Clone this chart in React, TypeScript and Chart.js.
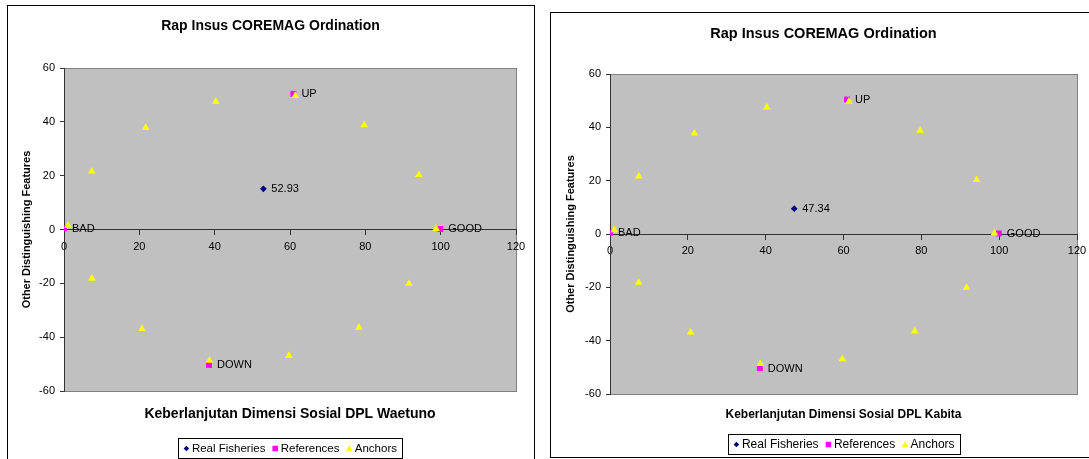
import React, { useEffect, useRef } from "react";
import { Chart, registerables } from "chart.js";

Chart.register(...registerables);

const FONT = "'Liberation Sans', Arial, sans-serif";
Chart.defaults.font.family = FONT;

// ---------- data ----------
const chartTitle = "Rap Insus COREMAG Ordination";
const yAxisTitle = "Other Distinguishing Features";
const seriesNames = ["Real Fisheries", "References", "Anchors"];
const xTickValues = [0, 20, 40, 60, 80, 100, 120];
const yTickValues = [-60, -40, -20, 0, 20, 40, 60];

const anchorX = [1.1, 7.4, 21.7, 40.3, 61.4, 79.7, 94.2, 98.8, 91.6, 78.3, 59.7, 38.6, 20.7, 7.4];
const anchorY = [1.5, 21.6, 37.8, 47.5, 49.7, 38.8, 20.3, 0.3, -20.1, -36.4, -46.9, -48.7, -36.9, -18.2];

const referenceX = [99.9, 0, 60.9, 38.5];
const referenceY = [0.2, 0.5, 50.4, -50.3];
const referenceLabels = ["GOOD", "BAD", "UP", "DOWN"];

const waetunoX = [52.93];
const waetunoY = [15.1];
const kabitaX = [47.34];
const kabitaY = [9.5];

const xTitleWaetuno = "Keberlanjutan Dimensi Sosial DPL Waetuno";
const xTitleKabita = "Keberlanjutan Dimensi Sosial DPL Kabita";

// ---------- layout / style ----------
type Cfg = {
  boxLeft: number; boxTop: number; boxW: number; boxH: number;
  canLeft: number; canTop: number; canW: number; canH: number;
  padL: number; padR: number; padB: number;
  yAxisWidth: number; yTitlePadTop: number; yTitleSize: number;
  titleSize: number; titlePadTop: number; titlePadBottom: number;
  xTitleSize: number; xTitlePadTop: number;
  legendOffset: number; legendSize: number; legendH: number;
};

const leftCfg: Cfg = {
  boxLeft: 7, boxTop: 5, boxW: 528, boxH: 480,
  canLeft: 8, canTop: 6, canW: 526, canH: 470,
  padL: 17, padR: 18, padB: 53.6,
  yAxisWidth: 39, yTitlePadTop: -4.5, yTitleSize: 11,
  titleSize: 14, titlePadTop: 11.6, titlePadBottom: 33.6,
  xTitleSize: 14, xTitlePadTop: 14.6,
  legendOffset: 47, legendSize: 11.5, legendH: 20,
};

const rightCfg: Cfg = {
  boxLeft: 550, boxTop: 12, boxW: 548, boxH: 446,
  canLeft: 551, canTop: 13, canW: 546, canH: 444,
  padL: 19, padR: 20, padB: 35.5,
  yAxisWidth: 40, yTitlePadTop: -5.6, yTitleSize: 11,
  titleSize: 14.5, titlePadTop: 12.6, titlePadBottom: 31,
  xTitleSize: 12, xTitlePadTop: 13.1,
  legendOffset: 40.3, legendSize: 12, legendH: 20,
};

const AXIS_COLOR = "#333333";
const FISH_COLOR = "#000080";
const REF_COLOR = "#FF00FF";
const ANCHOR_COLOR = "#FFFF00";

function drawMarker(ctx: CanvasRenderingContext2D, style: string, x: number, y: number, r: number, color: string) {
  ctx.fillStyle = color;
  ctx.beginPath();
  if (style === "rectRot") {
    ctx.moveTo(x, y - r); ctx.lineTo(x + r, y); ctx.lineTo(x, y + r); ctx.lineTo(x - r, y);
  } else if (style === "rect") {
    const s = r * Math.SQRT1_2;
    ctx.rect(x - s, y - s, 2 * s, 2 * s);
  } else {
    ctx.moveTo(x, y - r);
    ctx.lineTo(x + r * Math.sin((2 * Math.PI) / 3), y - r * Math.cos((2 * Math.PI) / 3));
    ctx.lineTo(x + r * Math.sin((4 * Math.PI) / 3), y - r * Math.cos((4 * Math.PI) / 3));
  }
  ctx.closePath();
  ctx.fill();
}

function OrdinationChart({ cfg, fishX, fishY, xTitle }: { cfg: Cfg; fishX: number[]; fishY: number[]; xTitle: string }) {
  const ref = useRef<HTMLCanvasElement>(null);
  useEffect(() => {
    const bgPlugin = {
      id: "plotBg",
      beforeDraw(chart: any) {
        const { ctx, chartArea: a } = chart;
        ctx.save();
        ctx.fillStyle = "#C0C0C0";
        ctx.fillRect(a.left, a.top, a.right - a.left + 1, a.bottom - a.top + 1);
        ctx.strokeStyle = "#808080";
        ctx.lineWidth = 1;
        const l = Math.round(a.left) + 0.5, t = Math.round(a.top) + 0.5;
        const r = Math.round(a.right) + 0.5, b = Math.round(a.bottom) + 0.5;
        ctx.strokeRect(l, t, r - l, b - t);
        ctx.restore();
      },
    };
    const labelPlugin = {
      id: "pointText",
      afterDatasetsDraw(chart: any) {
        const ctx = chart.ctx;
        ctx.save();
        ctx.font = `11px ${FONT}`;
        ctx.fillStyle = "#000";
        ctx.textBaseline = "middle";
        ctx.textAlign = "left";
        chart.data.datasets.forEach((ds: any, i: number) => {
          if (!ds.pointLabels) return;
          const meta = chart.getDatasetMeta(i);
          meta.data.forEach((el: any, j: number) => {
            ctx.fillText(ds.pointLabels[j], el.x + 8, el.y + 0.5);
          });
        });
        ctx.restore();
      },
    };
    const legendItems = [
      { label: seriesNames[0], style: "rectRot", r: 2.8, color: FISH_COLOR },
      { label: seriesNames[1], style: "rect", r: 3.9, color: REF_COLOR },
      { label: seriesNames[2], style: "triangle", r: 4, color: ANCHOR_COLOR },
    ];
    const legendPlugin = {
      id: "boxLegend",
      afterDraw(chart: any) {
        const { ctx, chartArea: a } = chart;
        ctx.save();
        ctx.font = `${cfg.legendSize}px ${FONT}`;
        const widths = legendItems.map((it) => ctx.measureText(it.label).width);
        const padLeft = 8.4, markerGap = 5.5, itemGap = 9.8, padRight = 5;
        let total = padLeft + padRight;
        widths.forEach((w, i) => { total += markerGap + w + (i < widths.length - 1 ? itemGap : 0); });
        const cx = (a.left + a.right) / 2;
        const left = Math.round(cx - total / 2);
        const top = Math.round(a.bottom + cfg.legendOffset);
        ctx.fillStyle = "#fff";
        ctx.fillRect(left, top, Math.round(total), cfg.legendH);
        ctx.strokeStyle = "#000";
        ctx.lineWidth = 1;
        ctx.strokeRect(left + 0.5, top + 0.5, Math.round(total), cfg.legendH);
        const my = top + cfg.legendH / 2 + 0.5;
        let x = left + padLeft;
        legendItems.forEach((it, i) => {
          drawMarker(ctx, it.style, x, my + (it.style === "triangle" ? 0.8 : 0), it.r, it.color);
          ctx.fillStyle = "#000";
          ctx.textBaseline = "middle";
          ctx.textAlign = "left";
          ctx.fillText(it.label, x + markerGap, my);
          x += markerGap + widths[i] + itemGap;
        });
        ctx.restore();
      },
    };

    const chart = new Chart(ref.current as HTMLCanvasElement, {
      type: "scatter",
      data: {
        datasets: [
          {
            label: seriesNames[0],
            data: fishX.map((x, i) => ({ x, y: fishY[i] })),
            pointStyle: "rectRot", pointRadius: 3.4, pointHoverRadius: 3.4,
            backgroundColor: FISH_COLOR, borderWidth: 0, order: 0,
            pointLabels: fishX.map((v) => v.toFixed(2)),
          } as any,
          {
            label: seriesNames[1],
            data: referenceX.map((x, i) => ({ x, y: referenceY[i] })),
            pointStyle: "rect", pointRadius: 4.2, pointHoverRadius: 4.2,
            backgroundColor: REF_COLOR, borderWidth: 0, order: 2,
            pointLabels: referenceLabels,
          } as any,
          {
            label: seriesNames[2],
            data: anchorX.map((x, i) => ({ x, y: anchorY[i] })),
            pointStyle: "triangle", pointRadius: 4.4, pointHoverRadius: 4.4,
            backgroundColor: ANCHOR_COLOR, borderWidth: 0, order: 1,
          } as any,
        ],
      },
      options: {
        responsive: false,
        animation: false,
        devicePixelRatio: 1,
        events: [],
        layout: { padding: { left: cfg.padL, right: cfg.padR, top: 0, bottom: cfg.padB }, autoPadding: false },
        scales: {
          x: {
            type: "linear",
            position: { y: 0 } as any,
            min: 0, max: 120,
            afterBuildTicks: (s: any) => { s.ticks = xTickValues.map((value) => ({ value })); },
            grid: { display: true, drawOnChartArea: false, drawTicks: true, tickLength: 5, color: AXIS_COLOR },
            border: { display: true, color: AXIS_COLOR, width: 1 },
            ticks: { color: "#000", font: { size: 11 }, padding: 5.5, maxRotation: 0, autoSkip: false },
          },
          y: {
            type: "linear",
            position: "left",
            min: -60, max: 60,
            afterBuildTicks: (s: any) => { s.ticks = yTickValues.map((value) => ({ value })); },
            afterFit: (s: any) => { s.width = cfg.yAxisWidth; },
            grid: { display: true, drawOnChartArea: false, drawTicks: true, tickLength: 4, color: AXIS_COLOR },
            border: { display: true, color: AXIS_COLOR, width: 1 },
            ticks: { color: "#000", font: { size: 11 }, padding: 5, autoSkip: false },
            title: {
              display: true, text: yAxisTitle, color: "#000",
              font: { size: cfg.yTitleSize, weight: "bold" },
              padding: { top: cfg.yTitlePadTop, bottom: 0 },
            },
          },
        },
        plugins: {
          legend: { display: false },
          tooltip: { enabled: false },
          title: {
            display: true, text: chartTitle, color: "#000",
            font: { size: cfg.titleSize, weight: "bold" },
            padding: { top: cfg.titlePadTop, bottom: cfg.titlePadBottom },
          },
          subtitle: {
            display: true, position: "bottom", fullSize: false, text: xTitle, color: "#000",
            font: { size: cfg.xTitleSize, weight: "bold" },
            padding: { top: cfg.xTitlePadTop, bottom: 0 },
          },
        },
      } as any,
      plugins: [bgPlugin, labelPlugin, legendPlugin],
    });
    return () => chart.destroy();
  }, []);

  return (
    <>
      <div
        style={{
          position: "absolute", left: cfg.boxLeft, top: cfg.boxTop,
          width: cfg.boxW, height: cfg.boxH, boxSizing: "border-box",
          border: "1px solid #000", background: "#fff",
        }}
      />
      <canvas
        ref={ref}
        width={cfg.canW}
        height={cfg.canH}
        style={{ position: "absolute", left: cfg.canLeft, top: cfg.canTop, width: cfg.canW, height: cfg.canH }}
      />
    </>
  );
}

export default function App() {
  return (
    <div style={{ position: "fixed", left: 0, top: 0, width: "100vw", height: "100vh", overflow: "hidden", background: "#fff" }}>
      <OrdinationChart cfg={leftCfg} fishX={waetunoX} fishY={waetunoY} xTitle={xTitleWaetuno} />
      <OrdinationChart cfg={rightCfg} fishX={kabitaX} fishY={kabitaY} xTitle={xTitleKabita} />
    </div>
  );
}
